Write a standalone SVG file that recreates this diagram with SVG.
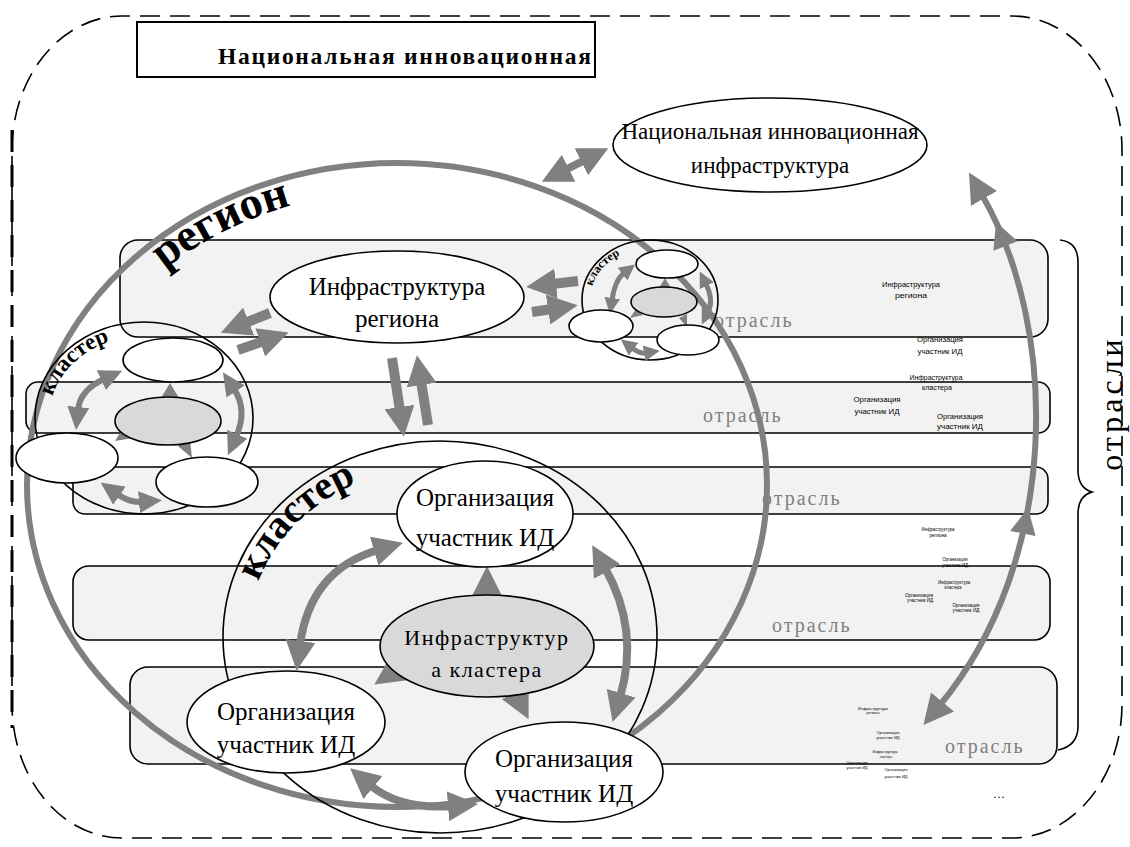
<svg xmlns="http://www.w3.org/2000/svg" width="1130" height="847" viewBox="0 0 1130 847">
<defs>
<style>
.lane{fill:#f2f2f2;stroke:#000;stroke-width:1.6}
.node{fill:#fff;stroke:#000;stroke-width:1.6}
.gnode{fill:#d9d9d9;stroke:#000;stroke-width:1.6}
.ring{fill:none;stroke:#000;stroke-width:1.6}
.ar{fill:none;stroke:#808080}
.ah{fill:#808080}
.t{font-family:"Liberation Serif","DejaVu Serif",serif;fill:#000}
.ind{font-family:"Liberation Serif","DejaVu Serif",serif;fill:#808080;font-size:20px;letter-spacing:2px}
.tiny{font-family:"Liberation Sans",Arial,sans-serif;fill:#000;text-anchor:middle}
</style>
<marker id="hL" viewBox="-4 -15 30 30" refX="0" refY="0" markerWidth="30" markerHeight="30" markerUnits="userSpaceOnUse" orient="auto-start-reverse"><path d="M-4,-15 L26,0 L-4,15 z" fill="#808080"/></marker>
<marker id="hM" viewBox="-3 -11 23 22" refX="0" refY="0" markerWidth="23" markerHeight="22" markerUnits="userSpaceOnUse" orient="auto-start-reverse"><path d="M-3,-11 L20,0 L-3,11 z" fill="#808080"/></marker>
<marker id="hS" viewBox="-2 -8 16 16" refX="0" refY="0" markerWidth="16" markerHeight="16" markerUnits="userSpaceOnUse" orient="auto-start-reverse"><path d="M-2,-8 L14,0 L-2,8 z" fill="#808080"/></marker>
<path id="pRegion" d="M 55,485 A 342,294 0 0,1 397,191"/>
<path id="pCl" d="M 248,637 A 192,171 0 0,1 440,466"/>
<path id="pClL" d="M 49,418 A 95,82 0 0,1 144,336"/>
<path id="pClR" d="M 590,300 A 60,52 0 0,1 650,248"/>
</defs>
<rect width="1130" height="847" fill="#fff"/>

<g id="boundary">
<path d="M 12,150 A 110,134 0 0,1 122,16 L 1012,16 A 110,134 0 0,1 1122,150 L 1122,704 A 110,134 0 0,1 1012,838 L 122,838 A 110,134 0 0,1 12,704 Z" fill="none" stroke="#000" stroke-width="1.6" stroke-dasharray="20,10"/>
<path d="M 12,130 L 12,728" fill="none" stroke="#000" stroke-width="3" stroke-dasharray="22,13"/>
</g>

<g id="title">
<rect x="137" y="22" width="458" height="55" fill="#fff" stroke="#000" stroke-width="2"/>
<text class="t" x="218" y="64" font-size="23.5" font-weight="bold" letter-spacing="1.7">Национальная инновационная</text>
</g>

<g id="lanes">
<rect id="lane1" class="lane" x="120" y="240" width="928" height="97" rx="18"/>
<rect id="lane2" class="lane" x="26" y="382" width="1024" height="51" rx="12"/>
<rect id="lane3" class="lane" x="73" y="467" width="975" height="47" rx="12"/>
<rect id="lane4" class="lane" x="73" y="566" width="977" height="74" rx="16"/>
<rect id="lane5" class="lane" x="130" y="667" width="927" height="97" rx="18"/>
<text class="ind" x="714" y="327">отрасль</text>
<text class="ind" x="703" y="422">отрасль</text>
<text class="ind" x="762" y="505">отрасль</text>
<text class="ind" x="772" y="632">отрасль</text>
<text class="ind" x="945" y="753">отрасль</text>
</g>

<g id="tiny1" class="tiny" font-size="8">
<text x="911" y="287" textLength="58" lengthAdjust="spacingAndGlyphs">Инфраструктура</text>
<text x="911" y="298" textLength="32" lengthAdjust="spacingAndGlyphs">региона</text>
<text x="940" y="342" textLength="46" lengthAdjust="spacingAndGlyphs">Организация</text>
<text x="940" y="354" textLength="45" lengthAdjust="spacingAndGlyphs">участник ИД</text>
<text x="936" y="380" textLength="53" lengthAdjust="spacingAndGlyphs">Инфраструктура</text>
<text x="937" y="390" textLength="30" lengthAdjust="spacingAndGlyphs">кластера</text>
<text x="877" y="402" textLength="47" lengthAdjust="spacingAndGlyphs">Организация</text>
<text x="877" y="414" textLength="45" lengthAdjust="spacingAndGlyphs">участник ИД</text>
<text x="960" y="419" textLength="46" lengthAdjust="spacingAndGlyphs">Организация</text>
<text x="960" y="429" textLength="46" lengthAdjust="spacingAndGlyphs">участник ИД</text>
</g>
<g id="tiny2" class="tiny" font-size="5">
<text x="938" y="531" textLength="33" lengthAdjust="spacingAndGlyphs">Инфраструктура</text>
<text x="938" y="537" textLength="17" lengthAdjust="spacingAndGlyphs">региона</text>
<text x="955" y="561" textLength="25" lengthAdjust="spacingAndGlyphs">Организация</text>
<text x="955" y="567" textLength="26" lengthAdjust="spacingAndGlyphs">участник ИД</text>
<text x="954" y="584" textLength="32" lengthAdjust="spacingAndGlyphs">Инфраструктура</text>
<text x="953" y="589" textLength="17" lengthAdjust="spacingAndGlyphs">кластера</text>
<text x="919" y="597" textLength="28" lengthAdjust="spacingAndGlyphs">Организация</text>
<text x="920" y="602" textLength="26" lengthAdjust="spacingAndGlyphs">участник ИД</text>
<text x="966" y="607" textLength="27" lengthAdjust="spacingAndGlyphs">Организация</text>
<text x="966" y="612" textLength="27" lengthAdjust="spacingAndGlyphs">участник ИД</text>
</g>
<g id="tiny3" class="tiny" font-size="4">
<text x="873" y="710" textLength="30" lengthAdjust="spacingAndGlyphs">Инфраструктура</text>
<text x="873" y="714" textLength="13" lengthAdjust="spacingAndGlyphs">региона</text>
<text x="888" y="734" textLength="23" lengthAdjust="spacingAndGlyphs">Организация</text>
<text x="888" y="739" textLength="23" lengthAdjust="spacingAndGlyphs">участник ИД</text>
<text x="885" y="753" textLength="25" lengthAdjust="spacingAndGlyphs">Инфраструктура</text>
<text x="886" y="758" textLength="12" lengthAdjust="spacingAndGlyphs">кластера</text>
<text x="857" y="764" textLength="21" lengthAdjust="spacingAndGlyphs">Организация</text>
<text x="857" y="769" textLength="21" lengthAdjust="spacingAndGlyphs">участник ИД</text>
<text x="896" y="771" textLength="23" lengthAdjust="spacingAndGlyphs">Организация</text>
<text x="896" y="778" textLength="23" lengthAdjust="spacingAndGlyphs">участник ИД</text>
</g>
<text class="t" x="999" y="798" font-size="12" fill="#808080" text-anchor="middle">…</text>

<g id="region">
<ellipse cx="397" cy="485" rx="370" ry="322" fill="none" stroke="#808080" stroke-width="6"/>
<text class="t" font-size="46" font-weight="bold"><textPath href="#pRegion" startOffset="250">регион</textPath></text>
</g>

<g id="clusterBig">
<ellipse class="ring" cx="440" cy="637" rx="217" ry="196"/>
<text class="t" font-size="40" font-weight="bold"><textPath href="#pCl" startOffset="57">кластер</textPath></text>
</g>
<g id="clusterLeft">
<ellipse class="ring" cx="144" cy="418" rx="109" ry="96"/>
<text class="t" font-size="23" font-weight="bold"><textPath href="#pClL" startOffset="22">кластер</textPath></text>
</g>
<g id="clusterRight">
<ellipse class="ring" cx="650" cy="300" rx="68" ry="60"/>
<text class="t" font-size="12" font-weight="bold"><textPath href="#pClR" startOffset="14">кластер</textPath></text>
</g>

<g id="connectors">
<path class="ar" stroke-width="8" d="M 565,170 L 585,160" marker-start="url(#hL)" marker-end="url(#hL)"/>
<path class="ar" stroke-width="6" d="M 982,195 C 1060,330 1060,560 940,705" marker-start="url(#hL)" marker-end="url(#hL)"/>
<polygon class="ah" points="996,222 1017.6,241.3 993.4,250.7"/>
<polygon class="ah" points="1028,508 1035.6,536.1 1010.2,530.9"/>
<path class="ar" stroke-width="10" d="M 270,313 L 245,323" marker-end="url(#hL)"/>
<path class="ar" stroke-width="10" d="M 238,350 L 264,341" marker-end="url(#hL)"/>
<path class="ar" stroke-width="10" d="M 392,358 L 400,411" marker-end="url(#hL)"/>
<path class="ar" stroke-width="10" d="M 428,425 L 421,381" marker-end="url(#hL)"/>
<path class="ar" stroke-width="10" d="M 578,281 L 552,284" marker-end="url(#hL)"/>
<path class="ar" stroke-width="10" d="M 532,312 L 552,309" marker-end="url(#hL)"/>
<path class="ar" stroke-width="8" d="M 378,550 Q 310,570 300,645" marker-start="url(#hL)" marker-end="url(#hL)"/>
<path class="ar" stroke-width="8" d="M 605,568 Q 640,630 620,697" marker-start="url(#hL)" marker-end="url(#hL)"/>
<path class="ar" stroke-width="8" d="M 370,785 Q 400,810 452,806" marker-start="url(#hL)" marker-end="url(#hL)"/>
<path class="ar" stroke-width="8" d="M 487,600 L 487,592" marker-end="url(#hL)"/>
<path class="ar" stroke-width="8" d="M 405,664 L 396,670" marker-end="url(#hL)"/>
<path class="ar" stroke-width="8" d="M 514,690 L 517,696" marker-end="url(#hL)"/>
<path class="ar" stroke-width="6" d="M 104,379 Q 80,390 78,410" marker-start="url(#hM)" marker-end="url(#hM)"/>
<path class="ar" stroke-width="6" d="M 234,389 Q 248,410 236,437" marker-start="url(#hM)" marker-end="url(#hM)"/>
<path class="ar" stroke-width="6" d="M 117,494 Q 130,503 142,502" marker-start="url(#hM)" marker-end="url(#hM)"/>
<polygon class="ah" points="170,383 161,398 179,398"/>
<polygon class="ah" points="115,441 123,428 133,438"/>
<polygon class="ah" points="192,458 178,446 190,440"/>
<path class="ar" stroke-width="5" d="M 612,300 Q 615,280 624,273" marker-start="url(#hS)" marker-end="url(#hS)"/>
<path class="ar" stroke-width="5" d="M 706,284 Q 714,300 708,312" marker-start="url(#hS)" marker-end="url(#hS)"/>
<path class="ar" stroke-width="5" d="M 632,348 Q 640,354 646,353" marker-start="url(#hS)" marker-end="url(#hS)"/>
<polygon class="ah" points="665,278 659,288 671,288"/>
<polygon class="ah" points="630,318 636,309 643,315"/>
<polygon class="ah" points="687,327 679,318 687,314"/>
</g>

<g id="natInfra">
<ellipse class="node" cx="770" cy="145" rx="157" ry="47"/>
<text class="t" x="770" y="139" font-size="23" text-anchor="middle">Национальная инновационная</text>
<text class="t" x="770" y="173" font-size="23" text-anchor="middle">инфраструктура</text>
</g>
<g id="infraRegion">
<ellipse class="node" cx="397" cy="297" rx="127" ry="46"/>
<text class="t" x="397" y="295" font-size="25" text-anchor="middle">Инфраструктура</text>
<text class="t" x="397" y="327" font-size="25" text-anchor="middle">региона</text>
</g>
<g id="orgTop">
<ellipse class="node" cx="485" cy="514" rx="88" ry="53"/>
<text class="t" x="485" y="506" font-size="25" text-anchor="middle">Организация</text>
<text class="t" x="485" y="546" font-size="25" text-anchor="middle">участник ИД</text>
</g>
<g id="infraCluster">
<ellipse class="gnode" cx="487" cy="646" rx="107" ry="51"/>
<text class="t" x="487" y="645" font-size="22" letter-spacing="1.5" text-anchor="middle" fill="#222">Инфраструктур</text>
<text class="t" x="487" y="677" font-size="22" letter-spacing="1.5" text-anchor="middle" fill="#222">а кластера</text>
</g>
<g id="orgLeft">
<ellipse class="node" cx="286" cy="722" rx="99" ry="51"/>
<text class="t" x="286" y="720" font-size="25" text-anchor="middle">Организация</text>
<text class="t" x="286" y="753" font-size="25" text-anchor="middle">участник ИД</text>
</g>
<g id="orgRight">
<ellipse class="node" cx="564" cy="772" rx="99" ry="50"/>
<text class="t" x="564" y="767" font-size="25" text-anchor="middle">Организация</text>
<text class="t" x="564" y="802" font-size="25" text-anchor="middle">участник ИД</text>
</g>
<g id="leftClusterNodes">
<ellipse class="node" cx="173" cy="360" rx="50" ry="22"/>
<ellipse class="gnode" cx="168" cy="421" rx="53" ry="24"/>
<ellipse class="node" cx="67" cy="458" rx="51" ry="25"/>
<ellipse class="node" cx="207" cy="482" rx="51" ry="25"/>
</g>
<g id="rightClusterNodes">
<ellipse class="node" cx="667" cy="264" rx="31" ry="14"/>
<ellipse class="gnode" cx="664" cy="302" rx="33" ry="15"/>
<ellipse class="node" cx="601" cy="326" rx="32" ry="16"/>
<ellipse class="node" cx="688" cy="340" rx="31" ry="15"/>
</g>

<g id="brace">
<path d="M 1060,240 Q 1078,242 1078,262 L 1078,470 Q 1078,488 1092,492 Q 1078,496 1078,514 L 1078,726 Q 1078,746 1058,750" fill="none" stroke="#000" stroke-width="1.6"/>
<text class="t" font-size="32" letter-spacing="4" text-anchor="middle" transform="translate(1122,403) rotate(-90)">отрасли</text>
</g>
</svg>
